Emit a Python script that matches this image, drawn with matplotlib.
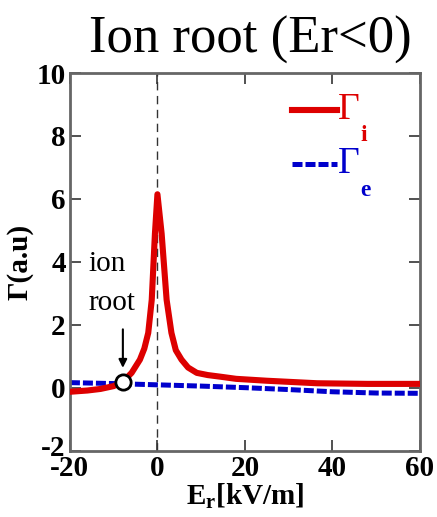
import matplotlib
matplotlib.use('Agg')
from matplotlib import pyplot as plt
from matplotlib.transforms import ScaledTranslation

plt.rcParams['font.family'] = ['Liberation Serif', 'DejaVu Serif']
plt.rcParams['mathtext.fontset'] = 'custom'
plt.rcParams['mathtext.rm'] = 'Liberation Serif'
plt.rcParams['mathtext.it'] = 'Liberation Serif:italic'
plt.rcParams['mathtext.bf'] = 'Liberation Serif:bold'
plt.rcParams['axes.unicode_minus'] = False

# ion flux vs radial field
er_i = [-20, -16, -13, -10, -7.9, -5.9, -4.0, -3.0, -2.1, -1.3, -0.57, 0,
        0.96, 2.1, 3.2, 4.2, 5.5, 7.0, 9.0, 11.5, 14.3, 18, 25, 36.5, 48, 60]
gamma_i = [-0.12, -0.08, -0.03, 0.06, 0.2, 0.48, 0.9, 1.25, 1.75, 2.8, 4.9, 6.15,
           4.9, 2.8, 1.75, 1.2, 0.9, 0.65, 0.48, 0.41, 0.36, 0.29, 0.23, 0.15, 0.13, 0.13]

# electron flux vs radial field
er_e = [-20, -10, 0, 10, 20, 30, 40, 50, 60]
gamma_e = [0.17, 0.14, 0.1, 0.06, 0.01, -0.05, -0.12, -0.16, -0.17]

# ambipolar (ion root) point
root_er = -7.9
root_gamma = 0.2

red = '#dd0000'
blue = '#0000cc'

fig = plt.figure(figsize=(4.37, 5.17), dpi=100)
ax = fig.add_axes([0.160, 0.1277, 0.801, 0.7311])

ax.axvline(0, color='#333333', linewidth=1, dashes=(6, 4), zorder=1)
ax.plot(er_i, gamma_i, color=red, linewidth=4.4, solid_joinstyle='round', zorder=3)
ax.plot(er_e, gamma_e, color=blue, linewidth=3.6, dashes=(2.0, 0.6), zorder=2)
ax.plot([root_er], [root_gamma], 'o', markersize=11, markerfacecolor='white',
        markeredgecolor='black', markeredgewidth=2, zorder=4)

ax.annotate('', xy=(root_er, 0.55), xytext=(root_er, 1.95),
            arrowprops=dict(arrowstyle='-|>', color='black', lw=1.5,
                            mutation_scale=12))
ax.text(-15.8, 3.95, 'ion', fontsize=21, va='center', ha='left')
ax.text(-15.8, 2.7, 'root', fontsize=21, va='center', ha='left')

# legend drawn by hand
ax.plot([30.7, 41.0], [8.83, 8.83], color=red, linewidth=4.4)
ax.text(41.2, 8.83, 'Γ', color=red, fontsize=27, va='center', ha='left')
ax.text(46.3, 8.0, 'i', color=red, fontsize=17, fontweight='bold', va='center', ha='left')
ax.plot([30.7, 41.0], [7.11, 7.11], color=blue, linewidth=3.6, dashes=(2.0, 0.6))
ax.text(41.2, 7.11, 'Γ', color=blue, fontsize=27, va='center', ha='left')
ax.text(46.3, 6.28, 'e', color=blue, fontsize=17, fontweight='bold', va='center', ha='left')

ax.set_xlim(-20, 60)
ax.set_ylim(-2, 10)
ax.set_xticks([-20, 0, 20, 40, 60])
ax.set_yticks([-2, 0, 2, 4, 6, 8, 10])
ax.tick_params(direction='in', length=8, width=1.2, top=True, right=True,
               labelsize=21, pad=3, color='#333333')
for lab in ax.get_xticklabels() + ax.get_yticklabels():
    lab.set_fontweight('bold')
# lift the lowest y label a little so it clears the x labels
low = ax.get_yticklabels()[0]
low.set_transform(low.get_transform() + ScaledTranslation(0, 4 / 72, fig.dpi_scale_trans))
for sp in ax.spines.values():
    sp.set_linewidth(2)
    sp.set_color('#666666')

ax.set_xlabel(r'$\mathbf{E_r[kV/m]}$', fontsize=21, labelpad=0)
ax.set_ylabel('Γ(a.u)', fontsize=21, fontweight='bold', labelpad=2)

fig.text(0.574, 0.923, 'Ion root (Er<0)', fontsize=38, ha='center', va='center')

plt.savefig('out.png', dpi=100)
